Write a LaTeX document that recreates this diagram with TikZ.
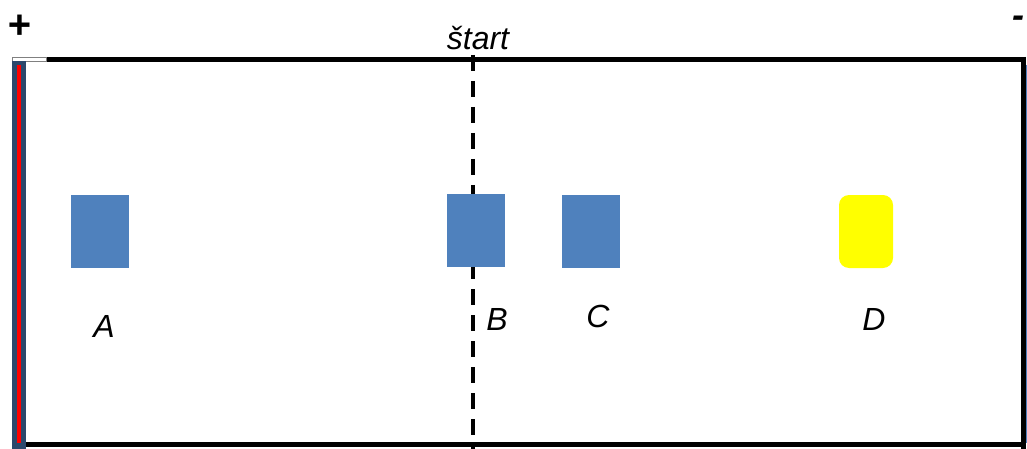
\documentclass[tikz,border=0pt]{standalone}
\usepackage{fontspec}
\setmainfont{Liberation Sans}
\definecolor{boxblue}{RGB}{79,129,189}
\definecolor{darkbar}{RGB}{44,72,108}
\definecolor{labelyellow}{RGB}{255,255,0}
\tikzset{
  blockbox/.style={fill=boxblue, draw=none, minimum width=58pt, minimum height=73pt, inner sep=0pt},
  lbl/.style={font=\fontsize{32}{36}\selectfont\itshape, inner sep=0pt, anchor=base},
  frameline/.style={line width=4.5pt, draw=black}
}
\begin{document}
\begin{tikzpicture}[x=1pt,y=-1pt]
\useasboundingbox (0,0) rectangle (1027,449);
% frame
\coordinate (tl) at (46,59.5);
\coordinate (tr) at (1023.5,59.5);
\coordinate (br) at (1023.5,444.5);
\coordinate (bl) at (26,444.5);
\draw[frameline] (tl) -- (1026,59.5);
\draw[frameline, line width=5pt] (1023.5,57) -- (1023.5,449);
\draw[frameline, line width=5pt] (bl) -- (br);
\draw[boxblue, line width=1pt] (1026.5,65) -- (1026.5,443);
\draw[gray, line width=0.8pt, fill=white] (12.5,57.3) rectangle (46,61.2);
% left electrode
\fill[darkbar] (12,61) rectangle (26,449);
\fill[red] (17,65) rectangle (21,443);
% start line
\coordinate (s1) at (473,55);
\coordinate (s2) at (473,449);
\draw[line width=4pt, dash pattern=on 16pt off 10pt] (s1) -- (s2);
% boxes
\node[blockbox] (A) at (100,231.5) {};
\node[blockbox] (B) at (476,230.5) {};
\node[blockbox] (C) at (591,231.5) {};
\node[fill=labelyellow, draw=none, rounded corners=10pt, minimum width=54pt, minimum height=73pt, inner sep=0pt] (D) at (866,231.5) {};
% labels
\node[lbl] (la) at (104,337) {A};
\node[lbl] (lb) at (497,330) {B};
\node[lbl] (lc) at (598,327) {C};
\node[lbl] (ld) at (874,330) {D};
\node[lbl] (st) at (478,50) {štart};
\node[font=\fontsize{40}{44}\selectfont\bfseries\itshape, inner sep=0pt] (plus) at (19,27) {+};
\node[font=\fontsize{36}{40}\selectfont\bfseries\itshape, inner sep=0pt, anchor=base] (minus) at (1018,28) {-};
\end{tikzpicture}
\end{document}
